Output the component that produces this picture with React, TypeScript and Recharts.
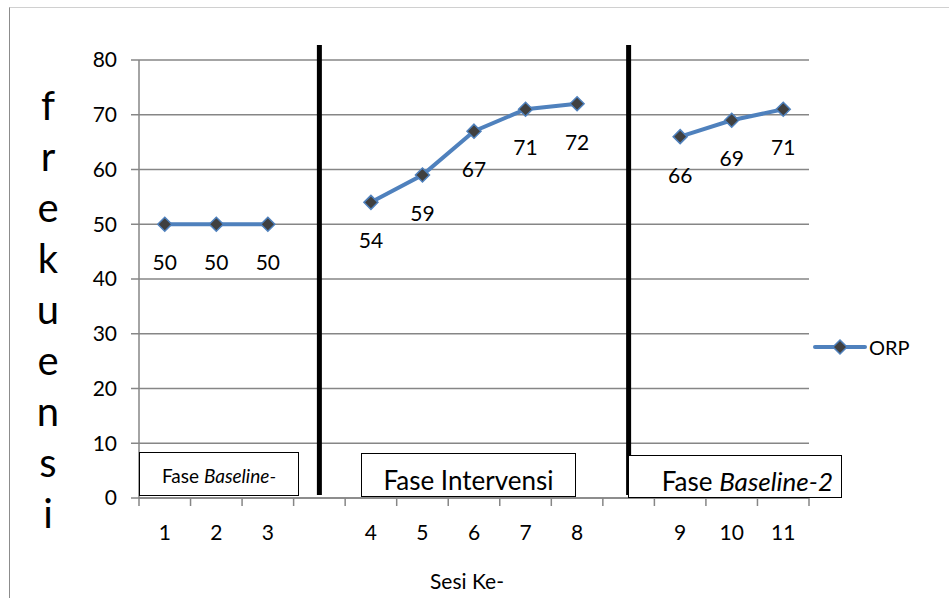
import React from "react";
import { LineChart, Line, XAxis, YAxis, CartesianGrid, ReferenceLine, LabelList } from "recharts";

const sessionLabels = ["1", "2", "3", "", "4", "5", "6", "7", "8", "", "9", "10", "11"];
const orpValues: (number | null)[] = [50, 50, 50, null, 54, 59, 67, 71, 72, null, 66, 69, 71];
const yTicks = [0, 10, 20, 30, 40, 50, 60, 70, 80];
const seriesName = "ORP";
const yTitleLetters = ["f", "r", "e", "k", "u", "e", "n", "s", "i"];
const xTitle = "Sesi Ke-";

const data = sessionLabels.map((label, i) => ({ pos: i + 0.5, label, orp: orpValues[i] }));
const boundaryTicks = sessionLabels.map((_, i) => i).concat(sessionLabels.length);
const centerTicks = data.filter((d) => d.label !== "").map((d) => d.pos);
const breakPositions = data.filter((d) => d.orp === null).map((d) => d.pos);
const labelByPos: Record<string, string> = {};
data.forEach((d) => (labelByPos[String(d.pos)] = d.label));

const FONT = "Lato, 'Open Sans', sans-serif";
const BLUE = "#4f81bd";
const GRID = "#868686";

const Diamond = (props: any) => {
  const { cx, cy, index, value } = props;
  if (cx == null || cy == null || value == null) return <g key={`d-${index}`} />;
  const r = 7;
  return (
    <polygon
      key={`d-${index}`}
      points={`${cx},${cy - r} ${cx + r},${cy} ${cx},${cy + r} ${cx - r},${cy}`}
      fill="#404040"
      stroke={BLUE}
      strokeWidth={1.5}
    />
  );
};

const BreakLine = (props: any) => {
  const top = Math.min(props.y1, props.y2);
  const bottom = Math.max(props.y1, props.y2);
  return <line x1={props.x1} x2={props.x2} y1={top - 15} y2={bottom - 3} stroke="#000" strokeWidth={5} />;
};

const boxStyle: React.CSSProperties = {
  position: "absolute",
  border: "1.5px solid #000",
  background: "#fff",
  boxSizing: "border-box",
  display: "flex",
  alignItems: "flex-end",
  justifyContent: "center",
  fontFamily: FONT,
  color: "#000",
  whiteSpace: "nowrap",
};

export default function App() {
  return (
    <div style={{ position: "absolute", left: 0, top: 0, width: 949, height: 598, background: "#fff", overflow: "hidden", fontFamily: FONT }}>
      <div style={{ position: "absolute", left: 9, top: 7, width: 960, height: 620, borderLeft: "1.5px solid #8c8c8c", borderTop: "1.5px solid #d0d0d0" }} />
      <LineChart width={949} height={598} data={data} margin={{ top: 60, right: 140, bottom: 32, left: 0 }}>
        <CartesianGrid horizontal={true} vertical={false} stroke={GRID} strokeWidth={1.5} xAxisId="a_marks" />
        <XAxis
          xAxisId="a_marks"
          type="number"
          dataKey="pos"
          domain={[0, sessionLabels.length]}
          ticks={boundaryTicks}
          interval={0}
          tickFormatter={() => ""}
          tickSize={8}
          height={8}
          stroke={GRID}
          strokeWidth={1.5}
          tickLine={{ stroke: GRID, strokeWidth: 1.5 }}
        />
        <XAxis
          xAxisId="b_main"
          type="number"
          dataKey="pos"
          domain={[0, sessionLabels.length]}
          ticks={centerTicks}
          interval={0}
          tickFormatter={(v: number) => labelByPos[String(v)]}
          axisLine={false}
          tickLine={false}
          tickSize={0}
          tickMargin={19}
          height={60}
          tick={{ fill: "#000", fontSize: 21, fontFamily: FONT }}
        />
        <YAxis
          type="number"
          domain={[0, 80]}
          ticks={yTicks}
          interval={0}
          width={139}
          tickSize={8}
          tickMargin={14}
          stroke={GRID}
          strokeWidth={1.5}
          tickLine={{ stroke: GRID, strokeWidth: 1.5 }}
          tick={{ fill: "#000", fontSize: 21, fontFamily: FONT }}
        />
        {breakPositions.map((p) => (
          <ReferenceLine key={p} x={p} xAxisId="b_main" shape={BreakLine} />
        ))}
        <Line
          xAxisId="b_main"
          type="linear"
          dataKey="orp"
          name={seriesName}
          stroke={BLUE}
          strokeWidth={4}
          dot={Diamond}
          activeDot={false}
          isAnimationActive={false}
        >
          <LabelList dataKey="orp" position="bottom" offset={31} fill="#000" fontSize={21} fontFamily={FONT} />
        </Line>
      </LineChart>

      {/* y-axis title, stacked letters */}
      {yTitleLetters.map((ch, i) => (
        <div
          key={i}
          style={{ position: "absolute", left: 28, width: 40, top: 80 + i * 51, height: 51, lineHeight: "51px", textAlign: "center", fontSize: 40, color: "#000" }}
        >
          {ch}
        </div>
      ))}

      {/* x-axis title */}
      <div style={{ position: "absolute", left: 367, width: 200, top: 568, textAlign: "center", fontSize: 21, color: "#000" }}>{xTitle}</div>

      {/* phase boxes */}
      <div style={{ ...boxStyle, left: 139, top: 452, width: 160, height: 44, fontSize: 19, alignItems: "center", paddingTop: 2 }}>
        <span>Fase&nbsp;<i>Baseline-</i></span>
      </div>
      <div style={{ ...boxStyle, left: 361, top: 453, width: 215, height: 44, fontSize: 26, paddingBottom: 0 }}>
        <span>Fase Intervensi</span>
      </div>
      <div style={{ ...boxStyle, left: 628, top: 455, width: 214, height: 43, fontSize: 26, paddingBottom: 0, justifyContent: "flex-end", paddingRight: 8 }}>
        <span>Fase <i>Baseline-2</i></span>
      </div>

      {/* legend */}
      <div style={{ position: "absolute", left: 813, top: 334, display: "flex", alignItems: "center", fontSize: 20, color: "#000" }}>
        <svg width={54} height={26}>
          <line x1={2} x2={52} y1={13} y2={13} stroke={BLUE} strokeWidth={4} strokeLinecap="round" />
          <polygon points="27,6 34,13 27,20 20,13" fill="#404040" stroke={BLUE} strokeWidth={1.5} />
        </svg>
        <span style={{ marginLeft: 2 }}>{seriesName}</span>
      </div>
    </div>
  );
}
